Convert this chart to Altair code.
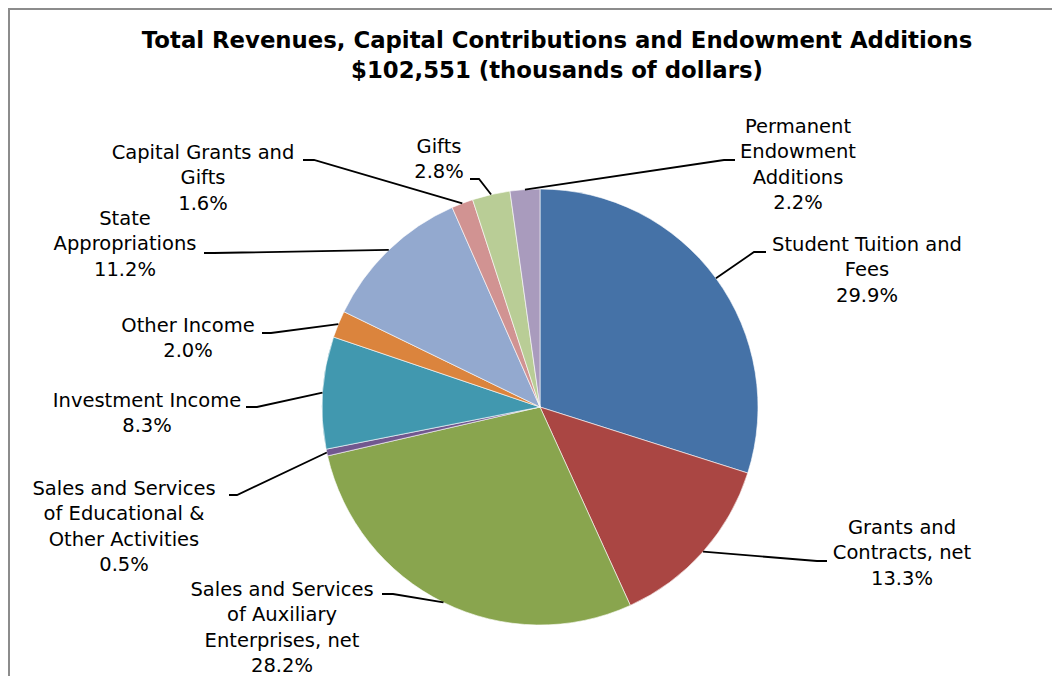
import math
import altair as alt
import pandas as pd

# ---------------- data ----------------
categories = [
    "Student Tuition and Fees",
    "Grants and Contracts, net",
    "Sales and Services of Auxiliary Enterprises, net",
    "Sales and Services of Educational & Other Activities",
    "Investment Income",
    "Other Income",
    "State Appropriations",
    "Capital Grants and Gifts",
    "Gifts",
    "Permanent Endowment Additions",
]
label_lines = [
    "Student Tuition and\nFees",
    "Grants and\nContracts, net",
    "Sales and Services\nof Auxiliary\nEnterprises, net",
    "Sales and Services\nof Educational &\nOther Activities",
    "Investment Income",
    "Other Income",
    "State\nAppropriations",
    "Capital Grants and\nGifts",
    "Gifts",
    "Permanent\nEndowment\nAdditions",
]
shares = [29.9, 13.3, 28.2, 0.5, 8.3, 2.0, 11.2, 1.6, 2.8, 2.2]
colors = ["#4572A7", "#AA4643", "#89A54E", "#71588F", "#4198AF",
          "#DB843D", "#93A9CF", "#D19392", "#B9CD96", "#A99BBD"]
title_lines = ["Total Revenues, Capital Contributions and Endowment Additions",
               "$102,551 (thousands of dollars)"]

# ---------------- layout (page pixels) ----------------
OFF = 8  # page margin
W, H = 1044, 668
CX, CY, R = 540 - OFF, 407 - OFF, 218
# centre x and first-line y of each label
label_pos = [(867, 245), (902, 528), (282, 590), (124, 489), (147, 401),
             (188, 326), (125, 219), (203, 153), (439, 147), (798, 127)]
leader_bends = [((754, 252), (766, 252)), ((817, 561), (827, 561)),
                ((393, 594), (382, 594)), ((237, 495), (229, 495)),
                ((257, 407), (246, 407)), ((271, 333), (262, 333)),
                ((214, 253), (204, 253)), ((314, 160), (303, 160)),
                ((479, 179), (470, 179)), ((724, 160), (735, 160))]
FONT = "DejaVu Sans"

# ---------------- tables ----------------
pie_df = pd.DataFrame({"idx": list(range(len(categories))),
                       "cat": categories, "share": shares})

rows_lab = []
rows_line = []
cum = 0.0
total = sum(shares)
for i, (c, txt, s) in enumerate(zip(categories, label_lines, shares)):
    mid = 2 * math.pi * (cum + s / 2) / total
    cum += s
    ex = CX + R * math.sin(mid)
    ey = CY - R * math.cos(mid)
    lx, ly = label_pos[i]
    rows_lab.append({"cat": c, "label": f"{txt}\n{s:.1f}%",
                     "lx": lx - OFF, "ly": ly - OFF})
    (bx, by), (tx, ty) = leader_bends[i]
    for k, (px, py) in enumerate([(ex, ey), (bx - OFF, by - OFF), (tx - OFF, ty - OFF)]):
        rows_line.append({"cat": c, "k": k, "px": px, "py": py})
lab_df = pd.DataFrame(rows_lab)
line_df = pd.DataFrame(rows_line)
title_df = pd.DataFrame({"t": title_lines, "ty": [41 - OFF, 71 - OFF]})
one = pd.DataFrame({"a": [0]})

# ---------------- marks ----------------
pie = alt.Chart(pie_df).mark_arc(radius=R, stroke="white", strokeWidth=0.6).encode(
    theta=alt.Theta("share:Q", stack=True),
    order=alt.Order("idx:Q"),
    color=alt.Color("cat:N", scale=alt.Scale(domain=categories, range=colors), legend=None),
    x=alt.value(CX), y=alt.value(CY),
)

leaders = alt.Chart(line_df).mark_line(color="black", strokeWidth=1.8).encode(
    x=alt.X("px:Q", scale=None, axis=None),
    y=alt.Y("py:Q", scale=None, axis=None),
    detail="cat:N",
    order="k:Q",
)

labels = alt.Chart(lab_df).mark_text(
    font=FONT, fontSize=19.5, lineBreak="\n", lineHeight=25.3,
    align="center", baseline="middle", color="black",
).encode(
    x=alt.X("lx:Q", scale=None, axis=None),
    y=alt.Y("ly:Q", scale=None, axis=None),
    text="label:N",
)

title = alt.Chart(title_df).mark_text(
    font=FONT, fontSize=22.8, fontWeight="bold", align="center",
    baseline="middle", color="black",
).encode(
    x=alt.value(557 - OFF),
    y=alt.Y("ty:Q", scale=None, axis=None),
    text="t:N",
)

border_top = alt.Chart(one).mark_rule(color="#8c8c8c", strokeWidth=3).encode(
    x=alt.value(0), x2=alt.value(W), y=alt.value(0.5))
border_left = alt.Chart(one).mark_rule(color="#8c8c8c", strokeWidth=3).encode(
    x=alt.value(0.5), y=alt.value(0), y2=alt.value(H))

chart = alt.layer(border_top, border_left, pie, leaders, labels, title).properties(
    width=W, height=H,
    autosize=alt.AutoSizeParams(type="none"),
    padding=0,
    background="white",
).configure_view(stroke=None)

chart.save("out.html", embed_options={"renderer": "svg", "actions": False})
